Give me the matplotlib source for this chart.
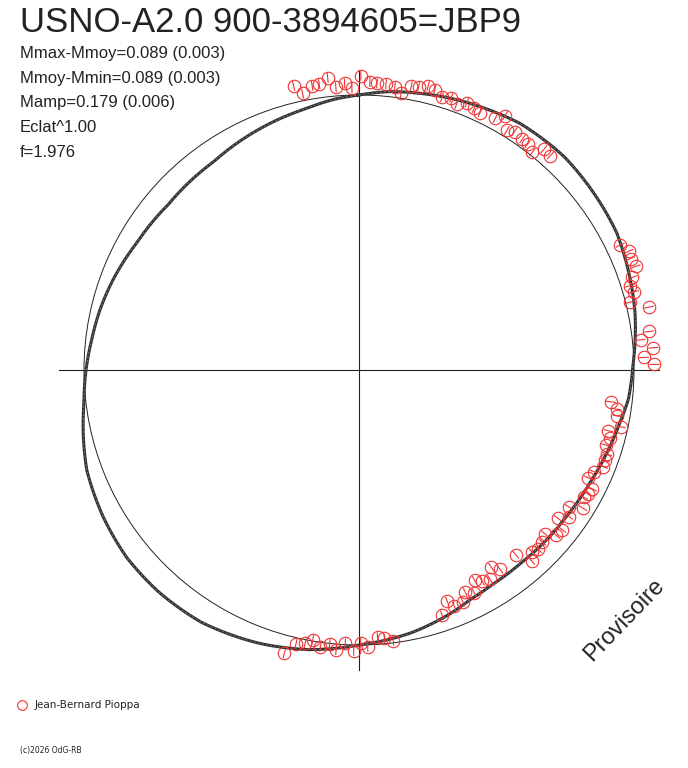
import numpy as np
import matplotlib
matplotlib.use("Agg")
import matplotlib.pyplot as plt

plt.rcParams['font.family'] = ['Liberation Sans', 'DejaVu Sans']

# observations: phase (0 at top, clockwise) and Mmoy - M (mag), outward = brighter
obs_phase = [0.964, 0.968, 0.974, 0.978, 0.983, 0.987, 0.992, 0.996, 0.001, 0.006,
             0.010, 0.015, 0.020, 0.024, 0.029, 0.033, 0.038, 0.042, 0.047, 0.052,
             0.056, 0.061, 0.066, 0.070, 0.079, 0.083, 0.088, 0.092, 0.098, 0.102,
             0.107, 0.111, 0.116,
             0.179, 0.184, 0.188, 0.193, 0.198, 0.202, 0.206, 0.211, 0.216, 0.229,
             0.233, 0.238, 0.243, 0.247,
             0.270, 0.274, 0.278, 0.284, 0.288, 0.292, 0.297, 0.302, 0.306, 0.310,
             0.315, 0.320, 0.325, 0.329, 0.332, 0.338, 0.342, 0.347, 0.352, 0.356,
             0.361, 0.365, 0.370, 0.375, 0.379, 0.383, 0.388, 0.402, 0.406, 0.411,
             0.416, 0.420, 0.424, 0.429, 0.433, 0.439, 0.442, 0.448,
             0.480, 0.485, 0.489, 0.495, 0.499, 0.503, 0.508, 0.513, 0.517, 0.522,
             0.527, 0.531, 0.536, 0.541]
obs_dmag = [0.066, 0.029, 0.052, 0.055, 0.076, 0.034, 0.048, 0.027, 0.077, 0.053,
            0.049, 0.049, 0.042, 0.020, 0.055, 0.058, 0.070, 0.061, 0.041, 0.050,
            0.033, 0.053, 0.044, 0.038, 0.045, 0.074, 0.026, 0.039, 0.032, 0.029,
            0.014, 0.052, 0.050,
            0.058, 0.078, 0.074, 0.082, 0.055, 0.035, 0.044, 0.017, 0.087, 0.071,
            0.033, 0.080, 0.041, 0.082,
            -0.085, -0.057, -0.050, -0.028, -0.074, -0.060, -0.068, -0.052, -0.052, -0.049,
            -0.076, -0.087, -0.052, -0.057, -0.068, -0.048, -0.099, -0.076, -0.108, -0.067,
            -0.070, -0.108, -0.094, -0.086, -0.097, -0.071, -0.132, -0.123, -0.150, -0.112,
            -0.123, -0.140, -0.096, -0.117, -0.085, -0.081, -0.109, -0.064,
            -0.009, -0.022, -0.028, 0.008, -0.009, 0.023, -0.005, 0.024, 0.002, 0.018,
            -0.005, 0.014, 0.024, 0.072]
obs_err = 0.02

# fitted light curve
fit_phase = [0.000, 0.017, 0.033, 0.053, 0.072, 0.092, 0.122, 0.172, 0.194, 0.217,
             0.247, 0.267, 0.282, 0.303, 0.322, 0.347, 0.367, 0.389, 0.411, 0.428,
             0.444, 0.469, 0.500, 0.528, 0.556, 0.589, 0.617, 0.642, 0.667, 0.694,
             0.731, 0.750, 0.768, 0.786, 0.806, 0.833, 0.864, 0.903, 0.944, 0.967,
             0.986]
fit_dmag = [0.000, 0.020, 0.032, 0.048, 0.062, 0.078, 0.084, 0.068, 0.048, 0.028,
            -0.004, -0.016, -0.036, -0.056, -0.072, -0.084, -0.088, -0.092, -0.090, -0.080,
            -0.058, -0.028, 0.000, 0.036, 0.064, 0.090, 0.096, 0.094, 0.080, 0.060,
            0.008, -0.008, -0.024, -0.036, -0.052, -0.076, -0.090, -0.084, -0.052, -0.034,
            -0.012]

title = "USNO-A2.0 900-3894605=JBP9"
stats = ["Mmax-Mmoy=0.089 (0.003)", "Mmoy-Mmin=0.089 (0.003)",
         "Mamp=0.179 (0.006)", "Eclat^1.00", "f=1.976"]
observer = "Jean-Bernard Pioppa"

R0 = 275.0      # radius of the mean magnitude circle (px)
SCALE = 250.0   # px per mag
CX, CY = 359, 370
L = 300         # half length of the cross (px)
H = 340         # half size of the polar box (px)
W, HT = 688, 768


def px(x, y):
    return x - CX, CY - y


def curved(line, steps=40):
    # let the polar transform bend segments along theta
    line.get_path()._interpolation_steps = steps
    return line


fig = plt.figure(figsize=(6.88, 7.68), dpi=100)

# background axes in pixel units for cross and texts
ax = fig.add_axes([0, 0, 1, 1])
ax.set_xlim(-CX, W - CX)
ax.set_ylim(CY - HT, CY)
ax.axis('off')
ax.plot([-L, L], [0, 0], color='#222222', lw=0.8)
ax.plot([0, 0], [-L, L], color='#222222', lw=0.8)

# polar axes for the light curve
pa = fig.add_axes([(CX - H) / W, (HT - CY - H) / HT, 2 * H / W, 2 * H / HT],
                  projection='polar')
pa.set_theta_zero_location('N')
pa.set_theta_direction(-1)
pa.set_rlim(0, H)
pa.set_axis_off()
pa.patch.set_visible(False)

t = np.linspace(0, 2 * np.pi, 9)
curved(pa.plot(t, np.full_like(t, R0), color='#222222', lw=0.7)[0])

fth = 2 * np.pi * np.array(fit_phase + [fit_phase[0] + 1])
fr = R0 + SCALE * np.array(fit_dmag + [fit_dmag[0]])
curved(pa.plot(fth, fr, color='#333333', lw=2.2, solid_joinstyle='round')[0])
curved(pa.plot(fth, fr, color='#8a8a8a', lw=0.5, ls=(0, (3, 3)))[0])

oth = 2 * np.pi * np.array(obs_phase)
orad = R0 + SCALE * np.array(obs_dmag)
pa.errorbar(oth, orad, yerr=SCALE * obs_err, fmt='none', ecolor='#ee3333',
            elinewidth=0.8, capsize=0, zorder=4)
pa.plot(oth, orad, 'o', mfc='none', mec='#ee3333', ms=9, mew=0.8, zorder=5)

# texts
ax.text(*px(20, 32), title, fontsize=25, color='#222222', va='baseline', ha='left')
for i, s in enumerate(stats):
    ax.text(*px(20, 58 + i * 24.7), s, fontsize=12, color='#222222',
            va='baseline', ha='left')
ax.text(*px(624, 620), "Provisoire", fontsize=17, color='#222222', rotation=46,
        ha='center', va='center')

ax.plot(*px(22, 705), 'o', mfc='none', mec='#ee3333', ms=7, mew=0.8)
ax.text(*px(35, 705), observer, fontsize=7.5, color='#222222', va='center',
        ha='left', family='DejaVu Sans')
ax.text(*px(20, 751), "(c)2026 OdG-RB", fontsize=5.5, color='#222222',
        va='center', ha='left', family='DejaVu Sans')

fig.savefig("out.png", dpi=100)
